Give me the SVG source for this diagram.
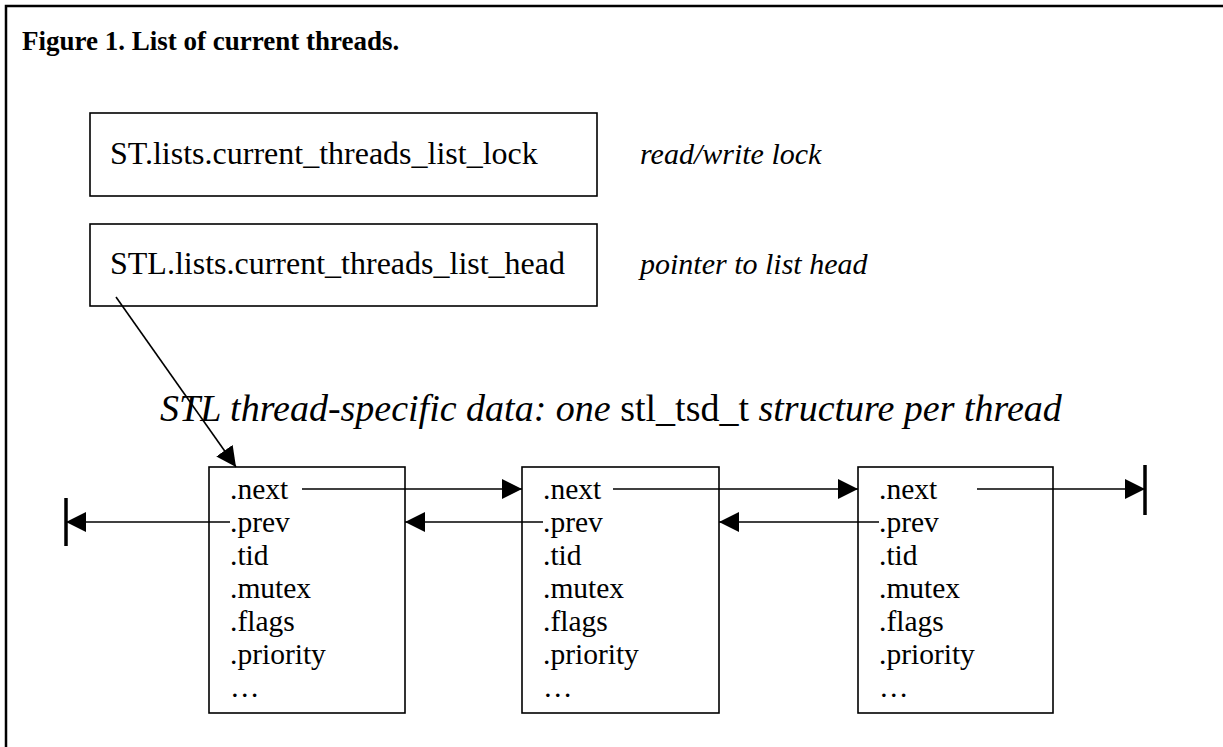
<svg xmlns="http://www.w3.org/2000/svg" width="1223" height="747" viewBox="0 0 1223 747">
  <defs>
    <style>
      .frame { fill: none; stroke: #000; stroke-width: 2.5; }
      .box { fill: #fff; stroke: #000; stroke-width: 1.6; }
      .txt { font-family: "Liberation Serif", "Times New Roman", serif; font-size: 32px; fill: #000; }
      .fld { font-family: "Liberation Serif", "Times New Roman", serif; font-size: 29.5px; fill: #000; }
      .note { font-family: "Liberation Serif", "Times New Roman", serif; font-size: 30px; font-style: italic; fill: #000; }
      .caption { font-family: "Liberation Serif", "Times New Roman", serif; font-size: 38px; font-style: italic; fill: #000; }
      .title { font-family: "Liberation Serif", "Times New Roman", serif; font-size: 27px; font-weight: bold; fill: #000; }
      .link { fill: none; stroke: #000; stroke-width: 1.6; }
      .stop { fill: none; stroke: #000; stroke-width: 3.5; }
    </style>
    <marker id="head" viewBox="0 0 20 20" refX="20" refY="10" markerWidth="20" markerHeight="20" markerUnits="userSpaceOnUse" orient="auto">
      <path d="M0,0 L20,10 L0,20 Z" fill="#000"/>
    </marker>
  </defs>

  <!-- page frame -->
  <path class="frame" d="M6,747 V6 H1223"/>

  <text class="title" x="22" y="50">Figure 1. List of current threads.</text>

  <!-- global list variables -->
  <g id="lock-var">
    <rect class="box" x="90" y="113" width="507" height="83"/>
    <text class="txt" x="110" y="164">ST.lists.current_threads_list_lock</text>
  </g>
  <text class="note" x="640" y="164">read/write lock</text>

  <g id="head-var">
    <rect class="box" x="90" y="224" width="507" height="82"/>
    <text class="txt" x="110" y="274">STL.lists.current_threads_list_head</text>
  </g>
  <text class="note" x="640" y="274">pointer to list head</text>

  <text class="caption" x="160" y="421">STL thread-specific data: one <tspan font-style="normal">stl_tsd_t</tspan> structure per thread</text>

  <!-- per-thread stl_tsd_t records -->
  <g id="tsd-1">
    <rect class="box" x="209" y="467" width="196" height="246"/>
    <text class="fld" x="230" y="499">.next</text>
    <text class="fld" x="230" y="532">.prev</text>
    <text class="fld" x="230" y="565">.tid</text>
    <text class="fld" x="230" y="598">.mutex</text>
    <text class="fld" x="230" y="631">.flags</text>
    <text class="fld" x="230" y="664">.priority</text>
    <text class="fld" x="230" y="697">…</text>
  </g>
  <g id="tsd-2">
    <rect class="box" x="522" y="467" width="197" height="246"/>
    <text class="fld" x="543" y="499">.next</text>
    <text class="fld" x="543" y="532">.prev</text>
    <text class="fld" x="543" y="565">.tid</text>
    <text class="fld" x="543" y="598">.mutex</text>
    <text class="fld" x="543" y="631">.flags</text>
    <text class="fld" x="543" y="664">.priority</text>
    <text class="fld" x="543" y="697">…</text>
  </g>
  <g id="tsd-3">
    <rect class="box" x="858" y="467" width="195" height="246"/>
    <text class="fld" x="879" y="499">.next</text>
    <text class="fld" x="879" y="532">.prev</text>
    <text class="fld" x="879" y="565">.tid</text>
    <text class="fld" x="879" y="598">.mutex</text>
    <text class="fld" x="879" y="631">.flags</text>
    <text class="fld" x="879" y="664">.priority</text>
    <text class="fld" x="879" y="697">…</text>
  </g>

  <!-- pointers -->
  <g id="connectors">
    <line class="link" x1="116" y1="297" x2="236" y2="467" marker-end="url(#head)"/>
    <line class="link" x1="302" y1="489" x2="522" y2="489" marker-end="url(#head)"/>
    <line class="link" x1="613" y1="489" x2="858" y2="489" marker-end="url(#head)"/>
    <line class="link" x1="977" y1="489" x2="1145" y2="489" marker-end="url(#head)"/>
    <line class="stop" x1="1145" y1="465" x2="1145" y2="515"/>
    <line class="link" x1="543" y1="522" x2="405" y2="522" marker-end="url(#head)"/>
    <line class="link" x1="879" y1="522" x2="719" y2="522" marker-end="url(#head)"/>
    <line class="link" x1="230" y1="522" x2="66" y2="522" marker-end="url(#head)"/>
    <line class="stop" x1="66" y1="498" x2="66" y2="546"/>
  </g>
</svg>
